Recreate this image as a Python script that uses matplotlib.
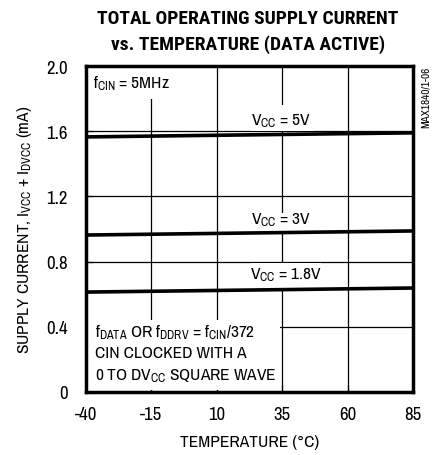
import matplotlib
matplotlib.use("Agg")
import matplotlib.pyplot as plt
from matplotlib import font_manager

ttf = font_manager.fontManager.ttflist
available = {f.name for f in ttf}
def has_bold(n):
    return any(f.name == n and (f.weight in ('bold', 700) or (isinstance(f.weight, int) and f.weight >= 700)) for f in ttf)

narrow = next((n for n in ['Liberation Sans Narrow', 'Arimo Narrow', 'Archivo Narrow',
                           'Roboto Condensed', 'Open Sans Condensed', 'Barlow Semi Condensed']
               if n in available), 'DejaVu Sans')
title_font = next((n for n in [narrow, 'Roboto Condensed', 'Archivo Narrow', 'Barlow Semi Condensed',
                               'Asap Condensed'] if n in available and has_bold(n)), 'DejaVu Sans')
fam = [narrow, 'DejaVu Sans']
plt.rcParams['font.family'] = fam
plt.rcParams['mathtext.fontset'] = 'custom'
plt.rcParams['mathtext.rm'] = narrow
plt.rcParams['mathtext.it'] = narrow
plt.rcParams['mathtext.bf'] = narrow + ':bold'

temps = [-40, 85]
i_5v = [1.565, 1.59]
i_3v = [0.963, 0.988]
i_18v = [0.613, 0.638]
xticks = [-40, -15, 10, 35, 60, 85]
yticks = [0, 0.4, 0.8, 1.2, 1.6, 2.0]
yticklabels = ['0', '0.4', '0.8', '1.2', '1.6', '2.0']

fig = plt.figure(figsize=(4.37, 4.56), dpi=100)
ax = fig.add_axes([86/437, 63/456, 327/437, 326/456])

ax.set_xlim(-40, 85)
ax.set_ylim(0, 2.0)
ax.set_xticks(xticks)
ax.set_xticklabels([str(t) for t in xticks])
ax.set_yticks(yticks)
ax.set_yticklabels(yticklabels)
ax.grid(True, color='black', linewidth=0.9)
ax.set_axisbelow(True)
ax.tick_params(direction='in', length=5, width=0.9, labelsize=13.5)
ax.tick_params(axis='y', pad=13)
ax.tick_params(axis='x', pad=10)
for s in ax.spines.values():
    s.set_linewidth(2.5)
    s.set_zorder(10)

for y in (i_5v, i_3v, i_18v):
    ax.plot(temps, y, color='black', linewidth=2.6, zorder=5, solid_capstyle='butt')

def wbox(x0, y0, x1, y1):
    ax.add_patch(plt.Rectangle((x0, y0), x1 - x0, y1 - y0, facecolor='white',
                               edgecolor='none', zorder=3))

# white areas behind labels
wbox(-39.5, 1.8, 3.5, 1.99)
wbox(23, 1.6, 47, 1.76)
wbox(23, 0.99, 47, 1.1)
wbox(23, 0.64, 50, 0.79)
wbox(-39.5, 0.015, 34, 0.44)

fs = 12.5
ax.text(-37.5, 1.895, r'f$_{\mathrm{CIN}}$ = 5MHz', fontsize=fs, va='center', ha='left', zorder=4)
ax.text(34.5, 1.67, r'V$_{\mathrm{CC}}$ = 5V', fontsize=fs, va='center', ha='center', zorder=4)
ax.text(34.5, 1.06, r'V$_{\mathrm{CC}}$ = 3V', fontsize=fs, va='center', ha='center', zorder=4)
ax.text(36.5, 0.725, r'V$_{\mathrm{CC}}$ = 1.8V', fontsize=fs, va='center', ha='center', zorder=4)
ax.text(-36.5, 0.37, r'f$_{\mathrm{DATA}}$ OR f$_{\mathrm{DDRV}}$ = f$_{\mathrm{CIN}}$/372', fontsize=fs, va='center', ha='left', zorder=4)
ax.text(-36.5, 0.24, 'CIN CLOCKED WITH A', fontsize=fs, va='center', ha='left', zorder=4)
ax.text(-36.5, 0.105, r'0 TO DV$_{\mathrm{CC}}$ SQUARE WAVE', fontsize=fs, va='center', ha='left', zorder=4)

ax.set_xlabel('TEMPERATURE (°C)', fontsize=12.5, labelpad=9)
ax.set_ylabel(r'SUPPLY CURRENT, I$_{\mathrm{VCC}}$ + I$_{\mathrm{DVCC}}$ (mA)', fontsize=12.5, labelpad=9)

fig.text(248/437, 1 - 19/456, 'TOTAL OPERATING SUPPLY CURRENT', fontsize=14, fontweight='bold',
         ha='center', va='center', family=[title_font, 'DejaVu Sans'])
fig.text(248/437, 1 - 45/456, 'vs. TEMPERATURE (DATA ACTIVE)', fontsize=14, fontweight='bold',
         ha='center', va='center', family=[title_font, 'DejaVu Sans'])
fig.text(426/437, 1 - 97/456, 'MAX1840/1-06', fontsize=8, rotation=90, ha='center', va='center')

fig.savefig('out.png', dpi=100)
